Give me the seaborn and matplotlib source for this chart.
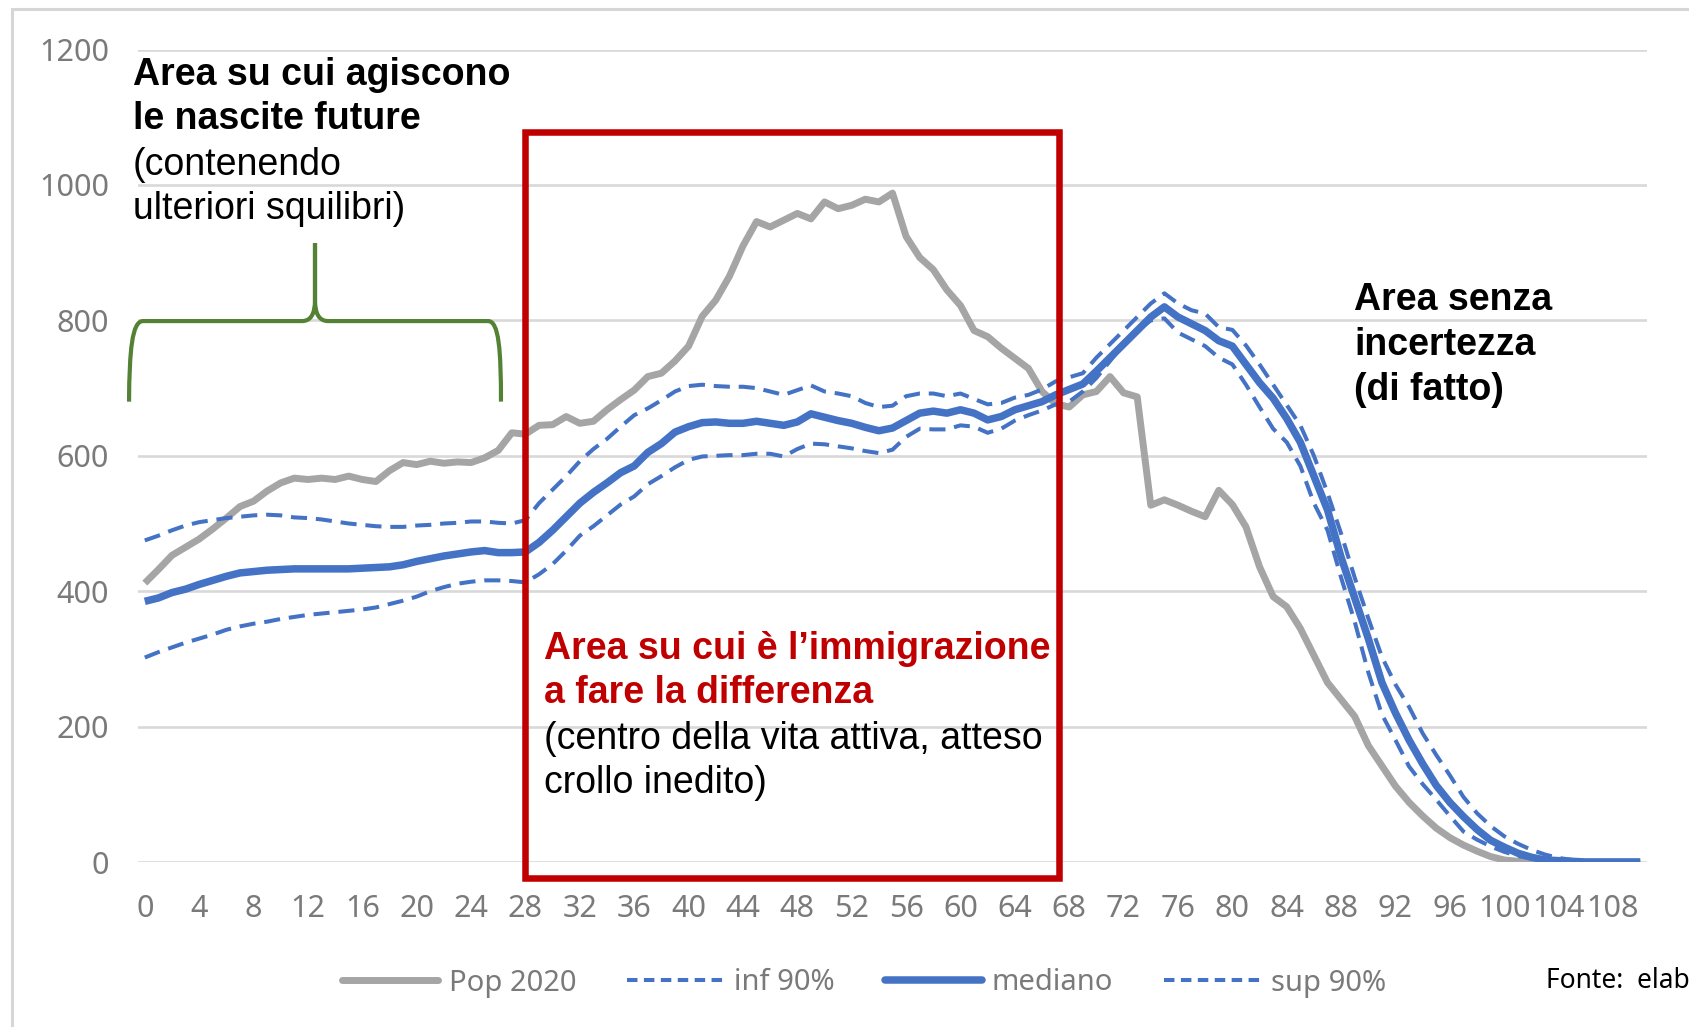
import numpy as np
import pandas as pd
import matplotlib
matplotlib.use("Agg")
import matplotlib.pyplot as plt
from matplotlib.lines import Line2D
from matplotlib.patches import Rectangle, PathPatch
from matplotlib.path import Path
import seaborn as sns

# =========================================
# DATA (ages 0-110, thousands of people)
# =========================================

ages = list(range(111))

pop_2020 = [412, 432, 453, 465, 477, 492, 508, 525, 533, 548,
            560, 567, 565, 567, 565, 570, 565, 562, 578, 590,
            587, 592, 589, 591, 590, 597, 608, 634, 632, 645,
            646, 658, 648, 651, 668, 683, 697, 717, 722, 740,
            762, 806, 830, 865, 910, 946, 938, 948, 958, 950,
            975, 965, 970, 979, 975, 988, 924, 893, 875, 845,
            822, 785, 776, 759, 744, 729, 695, 677, 672, 690,
            695, 717, 693, 687, 527, 535, 527, 518, 510, 549,
            528, 495, 436, 392, 377, 345, 305, 265, 240, 215,
            172, 142, 112, 88, 68, 50, 36, 25, 16, 8,
            3, 1, 0, 0, 0, 0, 0, 0, 0, 0, 0]

inf_90 = [302, 310, 317, 324, 330, 336, 343, 348, 352, 355,
          359, 362, 365, 367, 369, 371, 373, 376, 381, 386,
          392, 400, 406, 411, 414, 416, 416, 415, 413, 425,
          440, 460, 482, 496, 512, 528, 540, 558, 570, 583,
          594, 599, 600, 601, 601, 603, 603, 599, 610, 618,
          617, 614, 611, 607, 604, 609, 628, 640, 639, 639,
          645, 643, 634, 640, 652, 660, 667, 676, 680, 695,
          715, 740, 765, 785, 800, 803, 782, 772, 762, 745,
          735, 705, 672, 640, 620, 585, 530, 490, 420, 355,
          280, 218, 180, 141, 115, 92, 68, 45, 33, 23,
          15, 9, 5, 2, 1, 0, 0, 0, 0, 0, 0]

mediano = [385, 390, 398, 403, 410, 416, 422, 427, 429, 431,
           432, 433, 433, 433, 433, 433, 434, 435, 436, 439,
           444, 448, 452, 455, 458, 460, 457, 457, 458, 472,
           490, 510, 530, 546, 560, 575, 585, 605, 618, 635,
           643, 649, 650, 648, 648, 651, 648, 645, 650, 662,
           657, 652, 648, 642, 637, 641, 652, 663, 666, 663,
           668, 663, 653, 658, 668, 674, 680, 690, 698, 706,
           725, 745, 765, 785, 805, 820, 805, 795, 785, 770,
           762, 735, 708, 685, 655, 620, 570, 520, 450, 390,
           330, 265, 220, 180, 145, 113, 88, 67, 48, 32,
           22, 13, 7, 3, 2, 1, 0, 0, 0, 0, 0]

sup_90 = [475, 482, 490, 497, 502, 505, 508, 510, 512, 513,
          512, 509, 508, 506, 503, 500, 498, 496, 495, 495,
          497, 498, 500, 501, 503, 503, 501, 500, 505, 530,
          550, 570, 592, 610, 625, 643, 660, 670, 682, 695,
          703, 705, 703, 702, 702, 700, 695, 690, 697, 704,
          695, 692, 688, 678, 672, 674, 688, 692, 692, 688,
          692, 684, 676, 678, 686, 690, 698, 710, 716, 722,
          745, 765, 785, 805, 825, 840, 825, 815, 810, 790,
          786, 763, 735, 705, 675, 645, 600, 545, 485, 420,
          360, 303, 262, 229, 190, 158, 128, 96, 72, 53,
          38, 27, 18, 11, 6, 3, 1, 0, 0, 0, 0]

series_names = ["Pop 2020", "inf 90%", "mediano", "sup 90%"]
x_ticks = list(range(0, 109, 4))
y_ticks = [0, 200, 400, 600, 800, 1000, 1200]

df = pd.DataFrame({
    "eta": ages,
    "Pop 2020": pop_2020,
    "inf 90%": inf_90,
    "mediano": mediano,
    "sup 90%": sup_90,
})

# =========================================
# STYLE
# =========================================

sns.set_style("white")
plt.rcParams["font.family"] = ["Noto Sans", "DejaVu Sans"]

W, H = 1690, 1027
GRAY = "#A5A5A5"
BLUE = "#4472C4"
RED = "#C00000"
GREEN = "#548235"
TICK = "#7A7A7A"
DASH = (0, (4.0, 2.2))

styles = {
    "Pop 2020": dict(color=GRAY, linewidth=5.0, linestyle="-"),
    "inf 90%": dict(color=BLUE, linewidth=2.9, linestyle=DASH),
    "mediano": dict(color=BLUE, linewidth=5.4, linestyle="-"),
    "sup 90%": dict(color=BLUE, linewidth=2.9, linestyle=DASH),
}

fig = plt.figure(figsize=(W / 100, H / 100), dpi=100)
ax = fig.add_axes([138 / W, 1 - 862 / H, (1647 - 138) / W, (862 - 49.6) / H])

# outer chart frame (cropped slide)
fig.add_artist(Rectangle((12 / W, -0.1), 1.2, 1 - 9 / H + 0.1,
                         transform=fig.transFigure, fill=False,
                         edgecolor="#D6D6D6", linewidth=2.2))

# =========================================
# LINES
# =========================================

for name in series_names:
    sns.lineplot(data=df, x="eta", y=name, ax=ax, estimator=None,
                 errorbar=None, solid_capstyle="butt",
                 dash_capstyle="butt", zorder=3, **styles[name])

ax.set_xlim(-0.5, 110.5)
ax.set_ylim(0, 1200)
ax.set_xticks(x_ticks)
ax.set_xticklabels([str(t) for t in x_ticks])
ax.set_yticks(y_ticks)
ax.set_xlabel("")
ax.set_ylabel("")
ax.grid(axis="y", color="#D9D9D9", linewidth=1.9, zorder=0)
ax.grid(axis="x", visible=False)
for s in ax.spines.values():
    s.set_visible(False)
ax.tick_params(axis="both", length=0, labelsize=22, labelcolor=TICK)
ax.tick_params(axis="x", pad=23)
ax.tick_params(axis="y", pad=21)
ax.patch.set_alpha(0)

# =========================================
# ANNOTATIONS
# =========================================

def put(x, y, s, **kw):
    fig.text(x / W, 1 - y / H, s, va="baseline", ha="left",
             family=["Liberation Sans", "DejaVu Sans"], fontsize=27, **kw)

put(133, 85, "Area su cui agiscono", weight="bold", color="black")
put(133, 129, "le nascite future", weight="bold", color="black")
put(133, 175, "(contenendo", color="black")
put(133, 219, "ulteriori squilibri)", color="black")

put(544, 659, "Area su cui è l\u2019immigrazione", weight="bold", color=RED)
put(544, 703, "a fare la differenza", weight="bold", color=RED)
put(544, 749, "(centro della vita attiva, atteso", color="black")
put(544, 793, "crollo inedito)", color="black")

put(1354, 310, "Area senza", weight="bold", color="black")
put(1354, 355, "incertezza", weight="bold", color="black")
put(1354, 400, "(di fatto)", weight="bold", color="black")

# red box over ages 28-67
ax.add_patch(Rectangle((28.0, -24), 39.25, 1103, fill=False,
                       edgecolor=RED, linewidth=4.7, clip_on=False,
                       zorder=5))

# green curly bracket over ages 0-26
verts = [(-1.16, 680), (-1.13, 756), (-0.94, 799), (-0.13, 799),
         (11.57, 799),
         (12.52, 799), (12.52, 830),
         (12.52, 914),
         (12.52, 830),
         (12.52, 799), (13.48, 799),
         (25.25, 799),
         (26.05, 799), (26.2, 756), (26.2, 680)]
codes = [Path.MOVETO, Path.CURVE4, Path.CURVE4, Path.CURVE4,
         Path.LINETO,
         Path.CURVE3, Path.CURVE3,
         Path.LINETO,
         Path.LINETO,
         Path.CURVE3, Path.CURVE3,
         Path.LINETO,
         Path.CURVE4, Path.CURVE4, Path.CURVE4]
ax.add_patch(PathPatch(Path(verts, codes), fill=False, edgecolor=GREEN,
                       linewidth=3.0, clip_on=False, zorder=5))

# =========================================
# LEGEND + SOURCE
# =========================================

legend_styles = {n: dict(styles[n]) for n in series_names}
for n in ["inf 90%", "sup 90%"]:
    legend_styles[n]["linestyle"] = (0, (2.6, 1.6))

handles = [Line2D([], [], **legend_styles[n]) for n in series_names]
fig.legend(handles, series_names, loc="center", ncol=4,
           bbox_to_anchor=(864 / W, 1 - 983 / H), frameon=False,
           fontsize=21, labelcolor=TICK, handlelength=3.3,
           handletextpad=0.35, columnspacing=1.75)

fig.text(1546 / W, 1 - 981 / H, "Fonte:  elab", va="center", ha="left",
         fontsize=19, color="black")

fig.savefig("out.png", dpi=100, facecolor="white")
